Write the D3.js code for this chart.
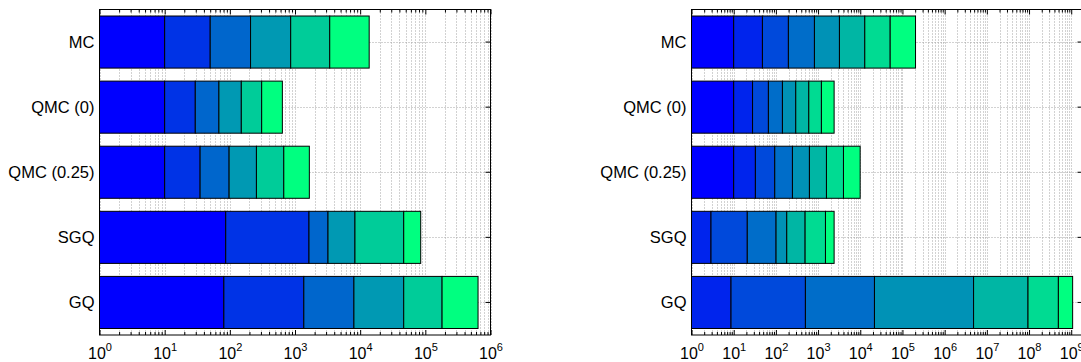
<!DOCTYPE html>
<html>
<head>
<meta charset="utf-8">
<script src="https://cdn.jsdelivr.net/npm/d3@7"></script>
<style>
  html, body { margin: 0; padding: 0; background: #fff; }
  svg { display: block; font-family: "Liberation Sans", Arial, Helvetica, sans-serif; }
</style>
</head>
<body>
<svg id="chart" width="1081" height="362"></svg>
<script>
// Methods, listed top to bottom
const methods = ["MC", "QMC (0)", "QMC (0.25)", "SGQ", "GQ"];

// Left panel: cumulative cost after each of six tolerance levels
const leftMC      = [10, 50, 208, 859, 3413, 13750];
const leftQMC0    = [10, 29.5, 68, 150, 308, 640];
const leftQMC025  = [10, 35, 97.5, 256, 673, 1660];
const leftSGQ     = [86.5, 1640, 3210, 8320, 46600, 84900];
const leftGQ      = [81, 1366, 8020, 46600, 180700, 644000];
const leftExponents = [0, 1, 2, 3, 4, 5, 6];
const leftLimits  = [1, 1e6];

// Right panel: cumulative cost after each of eight tolerance levels
const rightMC     = [10, 48, 198, 820, 3210, 12800, 51200, 204000];
const rightQMC0   = [10, 28, 66.5, 143, 296, 603, 1200, 2400];
const rightQMC025 = [10, 32.7, 94, 247, 624, 1580, 4000, 9940];
const rightSGQ    = [0.6, 2.9, 21, 101, 181, 493, 1497, 2400];
const rightGQ     = [0.6, 8.65, 501, 21700, 4.85e6, 9.46e7, 4.96e8, 1.08e9];
const rightExponents = [0, 1, 2, 3, 4, 5, 6, 7, 8, 9];
const rightLimits = [1, 1.85e9];

const svg = d3.select("#chart");
svg.append("rect").attr("width", 1081).attr("height", 362).attr("fill", "#fff");

const plotTop = 9.5, plotBottom = 335;

function drawPanel(x0, x1, rows, exponents, limits) {
  const g = svg.append("g");
  const levels = rows[0].length;
  // "winter" colour ramp: blue -> spring green
  const colour = i => d3.interpolateRgb("#0000ff", "#00ff80")(levels > 1 ? i / (levels - 1) : 0);

  const x = d3.scaleLog().domain(limits).range([x0, x1]);
  const y = d3.scaleBand().domain(methods).range([plotTop, plotBottom])
    .paddingInner(0.2).paddingOuter(0.1);

  const majors = exponents.map(e => Math.pow(10, e));
  const minors = [];
  exponents.forEach(e => {
    for (let m = 2; m <= 9; m++) {
      const v = m * Math.pow(10, e);
      if (v < limits[1]) minors.push(v);
    }
  });
  const allTicks = majors.concat(minors);

  const px = v => Math.round(x(v)) + 0.5;

  // dotted grid
  const grid = g.append("g").attr("stroke", "#a4a4a4").attr("stroke-width", 1)
    .attr("stroke-dasharray", "1,2").attr("fill", "none");
  grid.selectAll("line.vx").data(allTicks).join("line")
    .attr("class", "vx")
    .attr("x1", d => px(d)).attr("x2", d => px(d))
    .attr("y1", plotTop).attr("y2", plotBottom);
  grid.selectAll("line.hy").data(methods).join("line")
    .attr("class", "hy")
    .attr("x1", x0).attr("x2", x1)
    .attr("y1", d => Math.round(y(d) + y.bandwidth() / 2) + 0.5)
    .attr("y2", d => Math.round(y(d) + y.bandwidth() / 2) + 0.5);

  // tick marks (inward)
  const tickStyle = sel => {
    sel.select(".domain").remove();
    sel.selectAll(".tick line").attr("stroke", "#000").attr("stroke-width", 1);
  };
  g.append("g").attr("transform", `translate(0,${plotBottom})`)
    .call(d3.axisBottom(x).tickValues(minors).tickSizeInner(-3).tickSizeOuter(0).tickFormat(""))
    .call(tickStyle);
  g.append("g").attr("transform", `translate(0,${plotTop})`)
    .call(d3.axisTop(x).tickValues(minors).tickSizeInner(-3).tickSizeOuter(0).tickFormat(""))
    .call(tickStyle);
  g.append("g").attr("transform", `translate(0,${plotTop})`)
    .call(d3.axisTop(x).tickValues(majors).tickSizeInner(-5).tickSizeOuter(0).tickFormat(""))
    .call(tickStyle);
  g.append("g").attr("transform", `translate(${x1},0)`)
    .call(d3.axisRight(y).tickSizeInner(-5).tickSizeOuter(0).tickFormat(""))
    .call(tickStyle);

  // major bottom axis with 10^k labels
  const bx = g.append("g").attr("transform", `translate(0,${plotBottom})`)
    .call(d3.axisBottom(x).tickValues(majors).tickSizeInner(-5).tickSizeOuter(0)
      .tickFormat(d => String(Math.round(Math.log10(d)))))
    .call(tickStyle);
  bx.selectAll(".tick text").each(function () {
    const t = d3.select(this);
    const ex = t.text();
    t.text(null).attr("y", 24).attr("dy", null)
      .attr("fill", "#000").attr("font-size", 16)
      .attr("font-family", "'Liberation Sans', Arial, Helvetica, sans-serif")
      .attr("text-anchor", "middle");
    t.append("tspan").text("10");
    t.append("tspan").attr("font-size", 11).attr("dy", -8).text(ex);
  });

  // stacked segments
  const segs = [];
  rows.forEach((cum, r) => {
    cum.forEach((v, i) => {
      const start = i === 0 ? limits[0] : cum[i - 1];
      if (v <= limits[0]) return;
      segs.push({ method: methods[r], a: Math.max(start, limits[0]), b: v, i });
    });
  });
  g.append("g").selectAll("rect").data(segs).join("rect")
    .attr("x", d => x(d.a))
    .attr("width", d => x(d.b) - x(d.a))
    .attr("y", d => y(d.method))
    .attr("height", y.bandwidth())
    .attr("fill", d => colour(d.i))
    .attr("stroke", "#000")
    .attr("stroke-width", 1);

  // axes box
  g.append("rect")
    .attr("x", x0).attr("y", plotTop)
    .attr("width", x1 - x0).attr("height", plotBottom - plotTop)
    .attr("fill", "none").attr("stroke", "#000").attr("stroke-width", 1);

  // category labels
  g.append("g").selectAll("text").data(methods).join("text")
    .attr("x", x0 - 5)
    .attr("y", d => y(d) + y.bandwidth() / 2)
    .attr("dy", "0.36em")
    .attr("text-anchor", "end")
    .attr("font-size", 16.5)
    .attr("fill", "#000")
    .text(d => d);
}

drawPanel(99.5, 490.5, [leftMC, leftQMC0, leftQMC025, leftSGQ, leftGQ], leftExponents, leftLimits);
drawPanel(691.5, 1082.5, [rightMC, rightQMC0, rightQMC025, rightSGQ, rightGQ], rightExponents, rightLimits);
</script>
</body>
</html>
